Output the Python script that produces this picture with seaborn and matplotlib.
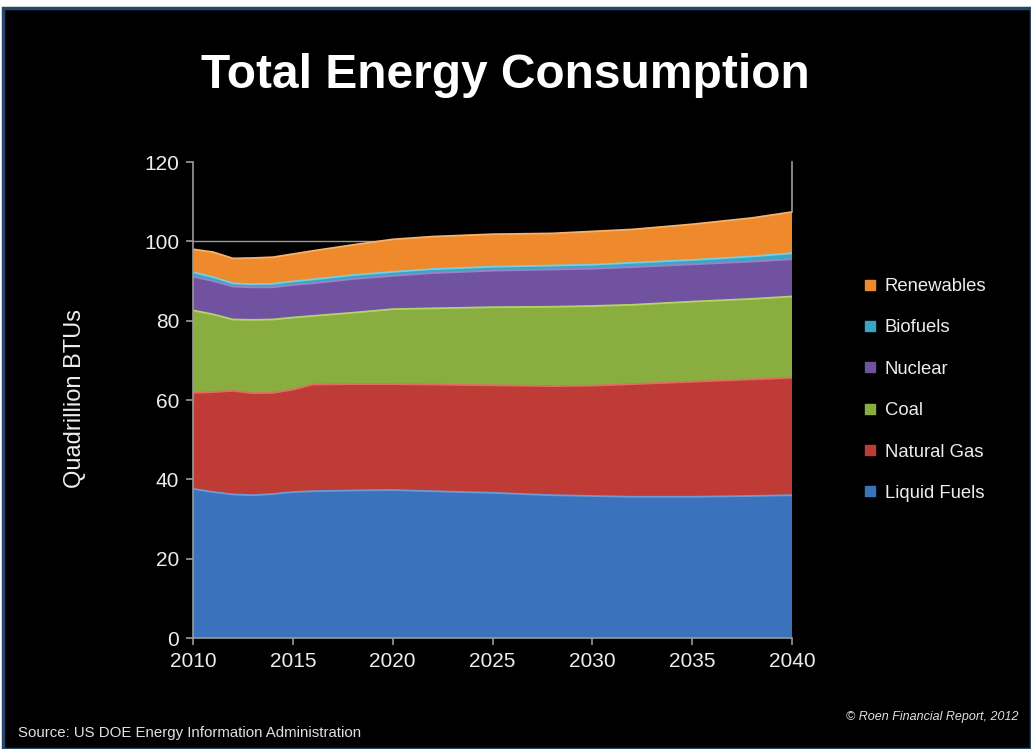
import matplotlib
matplotlib.use("Agg")
import matplotlib.pyplot as plt
from matplotlib.patches import Rectangle
from matplotlib.lines import Line2D
import seaborn as sns

# ---- data (Quadrillion BTUs) ----
years = [2010, 2011, 2012, 2013, 2014, 2015, 2016, 2018, 2020, 2022, 2025,
         2028, 2030, 2032, 2035, 2038, 2040]
liquid_fuels = [37.6, 36.8, 36.2, 36.0, 36.3, 36.8, 37.0, 37.2, 37.3, 37.0, 36.6,
                36.0, 35.8, 35.6, 35.6, 35.8, 36.0]
natural_gas = [24.2, 25.2, 26.1, 25.7, 25.5, 25.8, 26.9, 26.8, 26.7, 26.9, 27.1,
               27.5, 27.8, 28.4, 29.0, 29.4, 29.6]
coal = [20.8, 19.6, 18.0, 18.5, 18.5, 18.2, 17.3, 18.0, 18.9, 19.2, 19.7,
        20.0, 20.1, 20.0, 20.2, 20.3, 20.5]
nuclear = [8.5, 8.4, 8.3, 8.2, 8.1, 8.2, 8.2, 8.5, 8.4, 8.9, 9.2,
           9.4, 9.4, 9.5, 9.4, 9.4, 9.4]
biofuels = [1.1, 1.0, 0.8, 0.8, 0.9, 0.9, 1.0, 1.0, 1.0, 1.0, 1.0,
            1.0, 1.0, 1.1, 1.1, 1.3, 1.5]
renewables = [5.8, 6.3, 6.3, 6.6, 6.7, 6.9, 7.2, 7.6, 8.2, 8.2, 8.2,
              8.1, 8.4, 8.4, 9.0, 9.7, 10.4]

series_names = ["Liquid Fuels", "Natural Gas", "Coal", "Nuclear", "Biofuels", "Renewables"]
series_colors = ["#3A72BC", "#BE3B36", "#8AAD40", "#7052A0", "#3AA6C6", "#EF8A2C"]
edge_colors = ["#6D9BD8", "#E26B64", "#B3D46A", "#9C80C8", "#7CCDE3", "#F7B06A"]
x_ticks = [2010, 2015, 2020, 2025, 2030, 2035, 2040]
y_ticks = [0, 20, 40, 60, 80, 100, 120]

title = "Total Energy Consumption"
y_label = "Quadrillion BTUs"
source = "Source: US DOE Energy Information Administration"
credit = "\u00a9 Roen Financial Report, 2012"

# ---- style ----
sns.set_style("dark")
palette = sns.color_palette(series_colors)
plt.rcParams["font.family"] = ["Liberation Sans", "DejaVu Sans"]

fig = plt.figure(figsize=(10.31, 7.49), dpi=100)
fig.patch.set_facecolor("white")
fig.patches.append(Rectangle((0.003, 0.0), 0.997, (749 - 8) / 749,
                             transform=fig.transFigure, facecolor="black",
                             edgecolor="#27476A", linewidth=2.5, zorder=-10))

ax = fig.add_axes([193 / 1031, 111 / 749, (792 - 193) / 1031, (638 - 162) / 749])
ax.set_facecolor("black")

data = [liquid_fuels, natural_gas, coal, nuclear, biofuels, renewables]
polys = ax.stackplot(years, *data, colors=palette, labels=series_names, zorder=3,
                     edgecolor="none")

# highlight line along each band top
cum = [0.0] * len(years)
for vals, ec in zip(data, edge_colors):
    cum = [c + v for c, v in zip(cum, vals)]
    ax.plot(years, cum, color=ec, lw=1.3, zorder=3.5, solid_capstyle="butt")

ax.set_xlim(2010, 2040)
ax.set_ylim(0, 120)
ax.set_xticks(x_ticks)
ax.set_yticks(y_ticks)
ax.set_xticklabels([str(t) for t in x_ticks])

ax.yaxis.grid(True, color="#9A9A9A", lw=1.0, zorder=0)
ax.xaxis.grid(False)
ax.set_axisbelow(True)
ax.get_ygridlines()[-1].set_visible(False)

for side in ["left", "bottom", "right"]:
    ax.spines[side].set_visible(True)
    ax.spines[side].set_color("#9A9A9A")
    ax.spines[side].set_linewidth(1.2)
ax.spines["top"].set_visible(False)
ax.spines["left"].set_zorder(5)
ax.spines["bottom"].set_zorder(5)
ax.spines["right"].set_zorder(1)
ax.spines["right"].set_bounds(cum[-1], 120)

ax.tick_params(axis="both", colors="#9A9A9A", labelcolor="#EDEDED",
               labelsize=15, length=5, width=1.2, direction="out", pad=5)
ax.tick_params(axis="x", bottom=True)
ax.tick_params(axis="y", left=True)

# title, labels, notes
fig.text(0.49, 1 - 75 / 749, title, color="white", fontsize=34.5,
         fontweight="bold", ha="center", va="center")
fig.text(75 / 1031, 1 - 398 / 749, y_label, color="#EDEDED", fontsize=17,
         rotation=90, ha="center", va="center")
fig.text(18 / 1031, 1 - 733 / 749, source, color="#E0E0E0", fontsize=10.8,
         ha="left", va="center")
fig.text(1018 / 1031, 1 - 717 / 749, credit, color="#E0E0E0", fontsize=9.0,
         style="italic", ha="right", va="center")

# legend (reversed order like reference)
handles = [Line2D([0], [0], marker="s", linestyle="none", markersize=7,
                  markerfacecolor=c, markeredgecolor=c) for c in palette]
leg = fig.legend(handles[::-1], series_names[::-1],
                 loc="center left", bbox_to_anchor=(855 / 1031, 1 - 390 / 749),
                 frameon=False, fontsize=13.3, labelcolor="#EDEDED",
                 handlelength=0.6, handletextpad=0.5, labelspacing=1.32,
                 borderpad=0.0)

fig.savefig("out.png", dpi=100, facecolor=fig.get_facecolor())
